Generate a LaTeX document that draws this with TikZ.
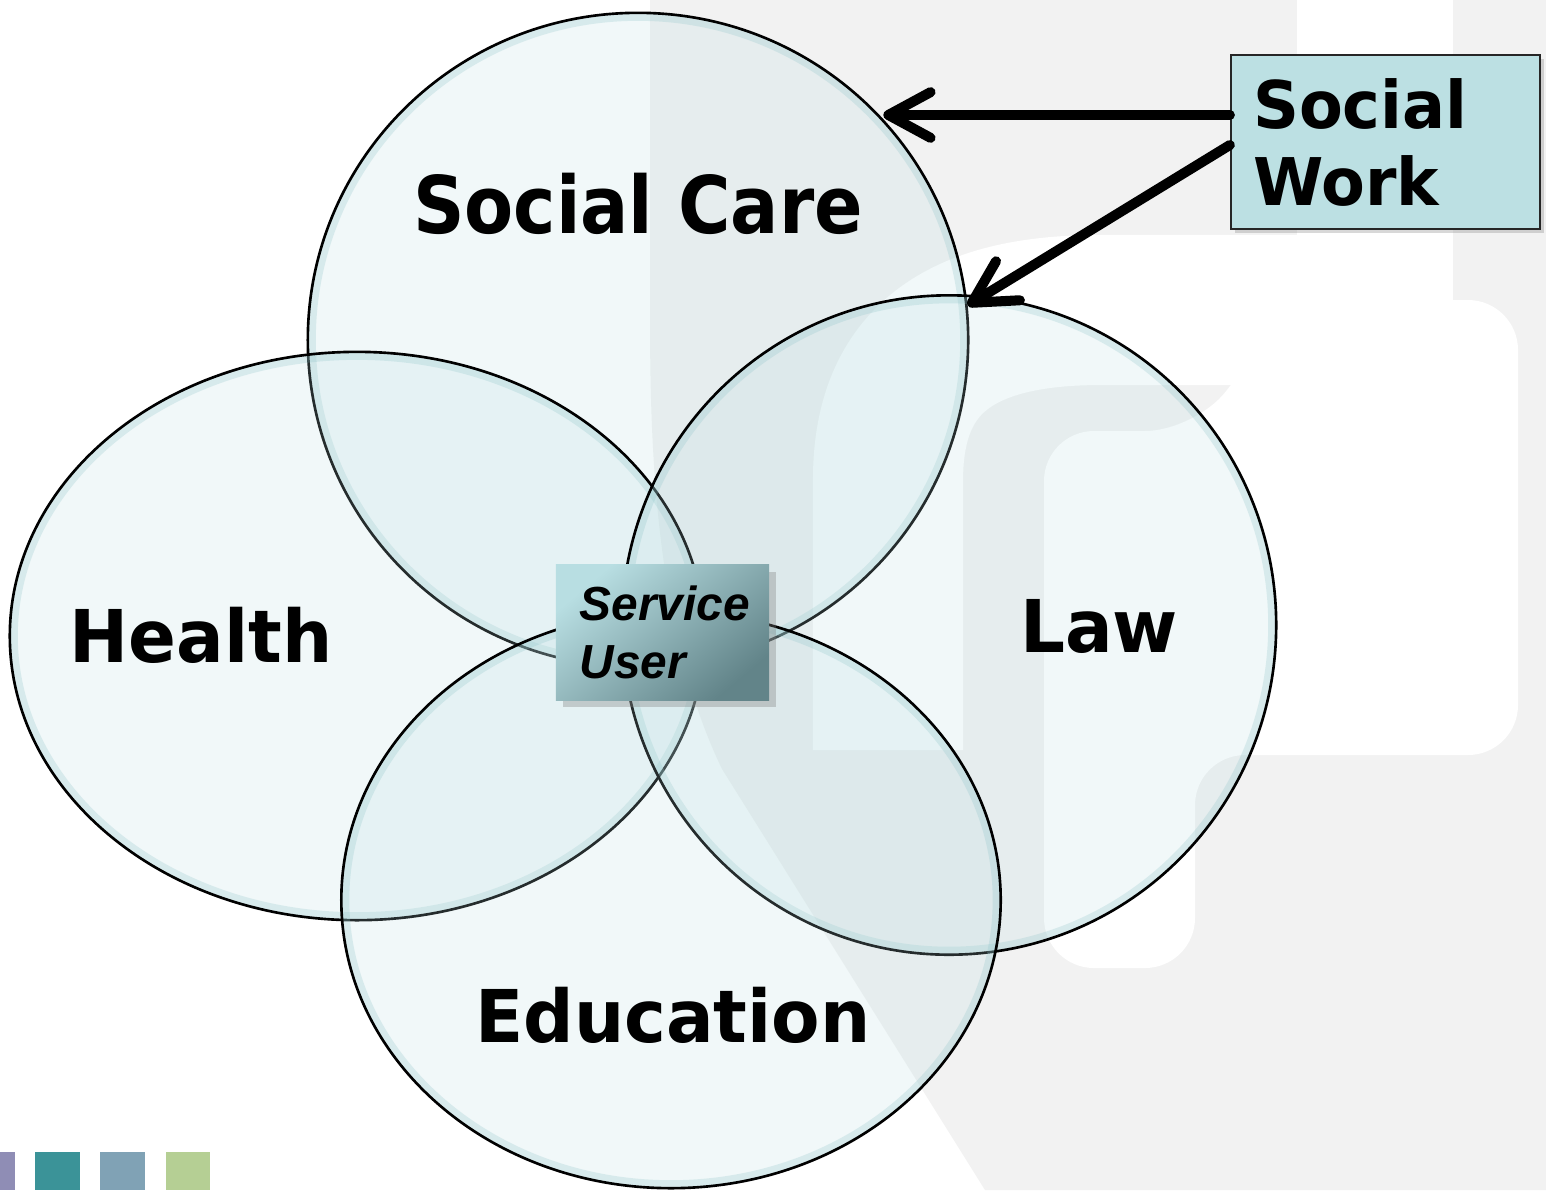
\documentclass[tikz,border=0pt]{standalone}
\usepackage{fontspec}
\usetikzlibrary{shapes, arrows.meta, positioning, shadows}
\newfontfamily\carefont{DejaVu Sans}[FakeStretch=0.9]
\newfontfamily\areafont{DejaVu Sans}[FakeStretch=0.97]
\newfontfamily\userfont{Liberation Sans}

\definecolor{bubblefill}{RGB}{185,221,225}
\definecolor{rimcol}{RGB}{140,195,200}
\definecolor{boxfill}{RGB}{188,224,227}
\definecolor{userlight}{RGB}{184,222,226}
\definecolor{userdark}{RGB}{98,132,137}
\definecolor{wmark}{RGB}{242,242,242}
\definecolor{sqpurple}{RGB}{143,141,181}
\definecolor{sqteal}{RGB}{59,147,152}
\definecolor{sqblue}{RGB}{128,162,181}
\definecolor{sqgreen}{RGB}{181,207,148}

\begin{document}
\begin{tikzpicture}[x=0.01cm, y=-0.01cm, >={Straight Barb[round, length=12pt, width=13pt]},
    bubble/.style 2 args={draw, ellipse, line width=0.75pt, fill=bubblefill, fill opacity=0.2,
        minimum width=#1, minimum height=#2, inner sep=0pt,
        path picture={\draw[rimcol, draw opacity=0.25, line width=0.16cm]
            (path picture bounding box.center) ellipse [x radius=#1/2, y radius=#2/2];}},
    area/.style={font=\areafont\bfseries\fontsize{20.7}{24}\selectfont, anchor=base, inner sep=0pt},
    userbox/.style={shading=axis, top color=userlight, bottom color=userdark, shading angle=40,
        minimum width=2.13cm, minimum height=1.35cm, text width=47pt, inner xsep=6.8pt, align=left,
        font=\userfont\bfseries\itshape\fontsize{13.6}{16.5}\selectfont,
        drop shadow={shadow xshift=2pt, shadow yshift=-2pt, opacity=0.35}},
    workbox/.style={draw=black!85, line width=0.6pt, fill=boxfill,
        minimum width=3.09cm, minimum height=1.74cm, text width=75.3pt, inner xsep=6.3pt, align=left,
        font=\areafont\bfseries\fontsize{18.7}{21.9}\selectfont,
        drop shadow={shadow xshift=1.2pt, shadow yshift=-1.2pt, opacity=0.3}},
    link/.style={->, line width=2.85pt, line cap=round}]

    \useasboundingbox (0,0) rectangle (1546,1190);
    \fill[white] (0,0) rectangle (1546,1190);

    % faint logo in the background
    \fill[wmark] (650,0) -- (1546,0) -- (1546,1190) -- (985,1190) -- (722,769)
        .. controls (650,620) and (650,420) .. (650,300) -- cycle;
    \fill[white] (1297,0) rectangle (1453,320);
    \fill[white, rounded corners=0.5cm] (1044,968) -- (1044,431) -- (1195,431) -- (1297,300) -- (1518,300)
        -- (1518,755) -- (1195,755) -- (1195,968) -- cycle;
    \draw[white, line width=1.5cm] (888,750) -- (888,480) .. controls (888,360) and (960,310) .. (1100,310) -- (1297,310);

    % the four areas
    \node[bubble={6.6cm}{6.54cm}] (care) at (638,340) {};
    \node[bubble={6.94cm}{5.68cm}] (health) at (357,636) {};
    \node[bubble={6.54cm}{6.59cm}] (law) at (949,625) {};
    \node[bubble={6.59cm}{5.76cm}] (edu) at (671,900) {};

    \node[area, font=\carefont\bfseries\fontsize{22.6}{26}\selectfont] (carelbl) at (638,233) {Social Care};
    \node[area] (healthlbl) at (201,662) {Health};
    \node[area] (lawlbl) at (1099,652) {Law};
    \node[area] (edulbl) at (673,1042) {Education};

    \node[userbox] (user) at (662.5,632.5) {Service\\User};

    % social work and its links
    \node[workbox] (work) at (1385.5,142) {Social\\Work};
    \coordinate (w1) at ([yshift=0.27cm]work.west);
    \coordinate (w2) at ([yshift=-0.03cm]work.west);
    \draw[link] (w1) -- (care.42 |- w1);
    \draw[link] (w2) -- (care.6);

    % colour squares, bottom left
    \fill[sqpurple] (0,1152) rectangle (15,1190);
    \fill[sqteal] (35,1152) rectangle (80,1190);
    \fill[sqblue] (100,1152) rectangle (145,1190);
    \fill[sqgreen] (166,1152) rectangle (210,1190);
\end{tikzpicture}
\end{document}
